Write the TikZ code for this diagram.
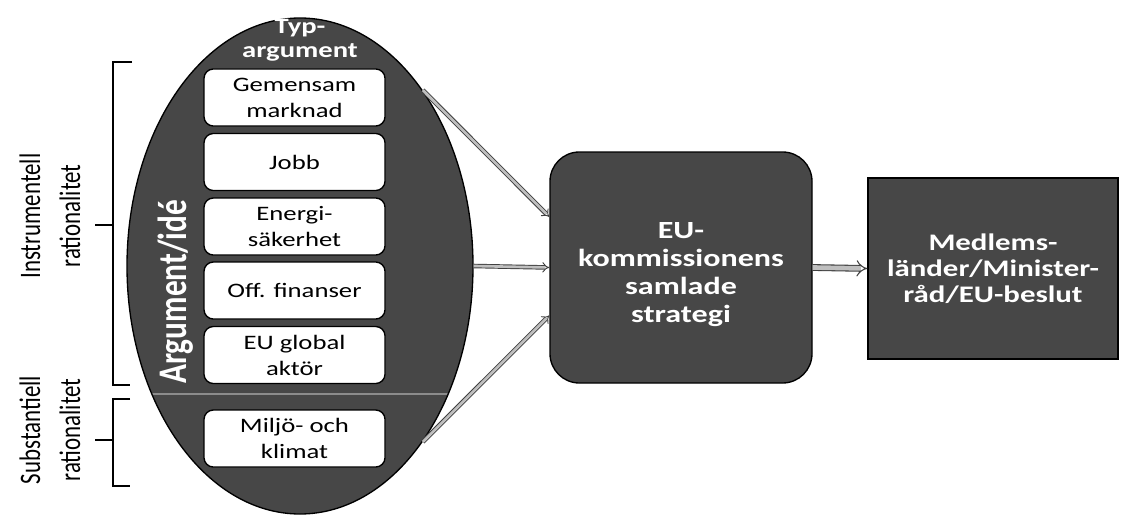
\documentclass[tikz,border=0pt]{standalone}
\usepackage{fontspec}
\setmainfont{Carlito}
\newfontfamily\wide{Carlito}[FakeStretch=1.3]
\newfontfamily\tall{Carlito}[FakeStretch=0.77]
\usetikzlibrary{shapes.geometric,arrows.meta}
\definecolor{darkfill}{gray}{0.28}
\begin{document}
\begin{tikzpicture}[x=0.75pt,y=-0.75pt,
  argbox/.style={draw=black,line width=1pt,fill=white,rounded corners=7pt,minimum width=135.75pt,minimum height=42.75pt,inner sep=0pt,align=center,font=\wide\fontsize{15.4}{19.5}\selectfont},
  whitetxt/.style={text=white,align=center,inner sep=0pt},
  dblarrow/.style={draw=black!75,line width=0.7pt,double=black!25,double distance=2pt,-{Implies}},
  sidelabel/.style={rotate=90,align=center,inner sep=0pt,font=\tall\fontsize{22.3}{30}\selectfont}]
\useasboundingbox (0,0) rectangle (1123,517);
%ellipse
\node[ellipse,draw=black,line width=1pt,fill=darkfill,minimum width=259.5pt,minimum height=372pt,inner sep=0pt](arg) at (300,266){};
\begin{scope}
\clip (arg.center) ellipse [x radius=172,y radius=247];
\draw[black!45,line width=1pt](100,394)--(500,394);
\end{scope}
\node[whitetxt,font=\wide\bfseries\fontsize{16.5}{18}\selectfont](typ) at (300,40){Typ-\\argument};
\node[whitetxt,rotate=90,font=\tall\bfseries\fontsize{30.5}{33}\selectfont](idea) at (176,292){Argument/idé};
%argument boxes
\node[argbox](mark) at (294.5,97.5){Gemensam\\marknad};
\node[argbox](jobb) at (294.5,162){Jobb};
\node[argbox](energi) at (294.5,226.5){Energi-\\säkerhet};
\node[argbox](fin) at (294.5,290.5){Off. finanser};
\node[argbox](glob) at (294.5,355){EU global\\aktör};
\node[argbox](klimat) at (294.5,438.5){Miljö- och\\klimat};
%========
\node[draw=black,line width=1pt,fill=darkfill,rounded corners=22pt,minimum width=196.5pt,minimum height=173.25pt,whitetxt,font=\wide\bfseries\fontsize{18.5}{21}\selectfont](strat) at (681,267.5){\rule{0pt}{22pt}EU-\\kommissionens\\samlade\\strategi};
\node[draw=black,line width=1pt,fill=darkfill,minimum width=187.5pt,minimum height=135.75pt,whitetxt,font=\wide\bfseries\fontsize{17.8}{19.5}\selectfont](beslut) at (993,268.5){Medlems-\\länder/Minister-\\råd/EU-beslut};
%arrows
\draw[dblarrow](arg.north east)--(strat.159);
\draw[dblarrow](arg.east)--(strat.west);
\draw[dblarrow](arg.south east)--(strat.200);
\draw[dblarrow,line width=0.8pt,double distance=3.5pt](strat.east)--(beslut.west);
%brackets
\draw[line width=0.8pt](132,62)--(113,62)--(113,385)--(130,385);
\draw[line width=0.8pt](95,225)--(113,225);
\draw[line width=0.8pt](130,399)--(113,399)--(113,486)--(130,486);
\draw[line width=0.8pt](95,440)--(113,440);
\node[sidelabel](instr) at (50,216){Instrumentell\\rationalitet};
\node[sidelabel](subst) at (50,430){Substantiell\\rationalitet};
\end{tikzpicture}
\end{document}
